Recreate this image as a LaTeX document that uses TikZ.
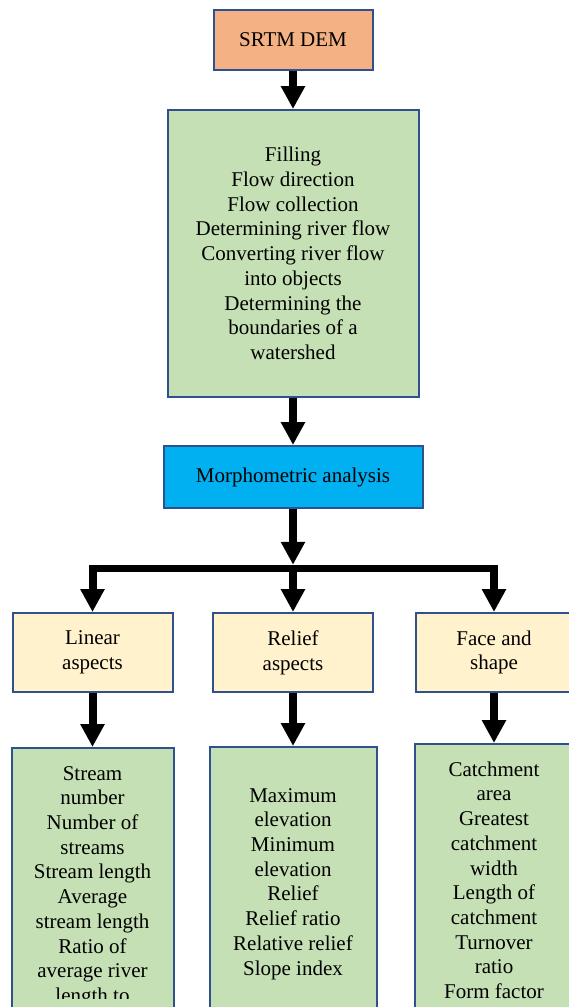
\documentclass[tikz,border=0pt]{standalone}
\usepackage{fontspec}
\setmainfont{Liberation Serif}
\usetikzlibrary{arrows.meta,positioning}
\definecolor{boxblue}{RGB}{47,82,143}
\definecolor{demorange}{RGB}{244,177,131}
\definecolor{stepgreen}{RGB}{197,224,180}
\definecolor{morphblue}{RGB}{0,176,240}
\definecolor{aspectyellow}{RGB}{255,242,204}
\begin{document}
\begin{tikzpicture}[x=1pt, y=-1pt,
		box/.style={rectangle, draw=boxblue, line width=2pt, inner sep=0pt, align=center, font=\fontsize{21}{24.7}\selectfont},
		txt/.style={rectangle, inner sep=0pt, align=center, font=\fontsize{21}{24.7}\selectfont},
		flow/.style={line width=8pt, -{Triangle[width=23pt, length=23pt]}},
		aspect/.style={box, fill=aspectyellow, minimum height=79pt},
		data/.style={box, fill=stepgreen, anchor=north, minimum height=300pt}]
		\useasboundingbox (0,0) rectangle (569,1007);
		\clip (0,0) rectangle (569,1007);

		\node (dem) [box, fill=demorange, minimum width=159pt, minimum height=60pt] at (293,40) {SRTM DEM};
		\node (prep) [box, fill=stepgreen, minimum width=251pt, minimum height=287pt] at (293,253.5) {Filling\\Flow direction\\Flow collection\\Determining river flow\\Converting river flow\\into objects\\Determining the\\boundaries of a\\watershed};
		\node (morph) [box, fill=morphblue, minimum width=259pt, minimum height=62pt] at (293,477) {Morphometric analysis};

		\node (linear) [aspect, minimum width=160pt] at (92.5,652.5) {Linear\\aspects};
		\node (relief) [aspect, minimum width=160pt] at (293,652.5) {Relief\\aspects};
		\node (face) [aspect, minimum width=156pt] at (494,652.5) {Face and\\shape};

		\node (lindata) [data, minimum width=162pt] at (92.5,747) {};
		\node (reldata) [data, minimum width=167pt] at (293,746) {};
		\node (facedata) [data, minimum width=158pt] at (494,743) {};

		\begin{scope}
			\clip (0,0) rectangle (569,998);
			\node (lintxt) [txt, below=19pt of lindata.north] {Stream\\number\\Number of\\streams\\Stream length\\Average\\stream length\\Ratio of\\average river\\length to};
		\end{scope}
		\node (reltxt) [txt, below=42pt of reldata.north] {Maximum\\elevation\\Minimum\\elevation\\Relief\\Relief ratio\\Relative relief\\Slope index};
		\node (facetxt) [txt, below=18.5pt of facedata.north] {Catchment\\area\\Greatest\\catchment\\width\\Length of\\catchment\\Turnover\\ratio\\Form factor};

		\coordinate (split) at (293,568.5);
		\draw[flow] (dem) -- (prep);
		\draw[flow] (prep) -- (morph);
		\draw[flow, shorten >=3.75pt] (morph) -- (split);
		\draw[line width=7.5pt, line cap=rect] (linear.north |- split) -- (face.north |- split);
		\foreach \n in {linear,relief,face}
			\draw[flow] (\n.north |- split) -- (\n);
		\draw[flow] (linear) -- (lindata);
		\draw[flow] (relief) -- (reldata);
		\draw[flow] (face) -- (facedata);
	\end{tikzpicture}
\end{document}
